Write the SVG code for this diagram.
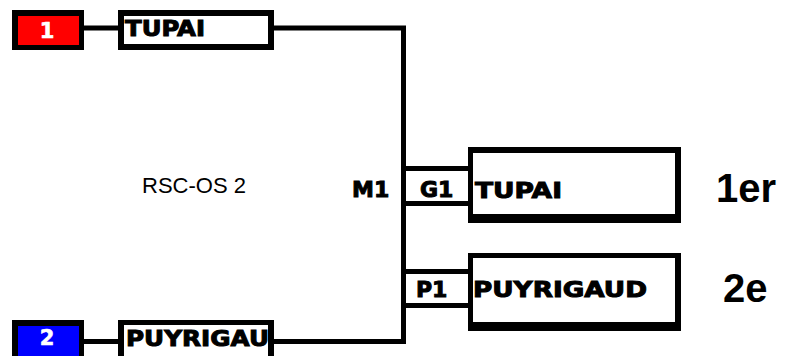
<svg xmlns="http://www.w3.org/2000/svg" width="789" height="356" viewBox="0 0 789 356">
<style>
.frame{fill:#000}
.in{fill:#fff}
.lbl{font-family:"DejaVu Sans","Liberation Sans",sans-serif;font-weight:bold;font-size:22px;fill:#000;stroke:#000;stroke-width:1}
.seed{font-family:"DejaVu Sans","Liberation Sans",sans-serif;font-weight:bold;font-size:21px;fill:#fff;stroke:#fff;stroke-width:0.6;text-anchor:middle}
.rank{font-family:"Liberation Sans",Arial,sans-serif;font-weight:bold;font-size:40px;fill:#000}
.title{font-family:"Liberation Sans",Arial,sans-serif;font-size:22px;fill:#000}
.conn{stroke:#000;stroke-width:5;fill:none}
</style>
<rect width="789" height="356" fill="#fff"/>
<g id="connectors">
<path class="conn" d="M84 28H118"/>
<path class="conn" d="M274 28H403.5V341.5H274"/>
<path class="conn" d="M84 341.5H118"/>
<path class="conn" d="M403.5 168.5H470M403.5 203.5H470"/>
<path class="conn" d="M403.5 271.5H470M403.5 305.5H470"/>
</g>
<g id="seed1">
<rect class="frame" x="12" y="10" width="72" height="40"/>
<rect x="18" y="16" width="61" height="29" fill="#ff0000"/>
<text class="seed" x="47" y="38">1</text>
</g>
<g id="team1">
<rect class="frame" x="118" y="10" width="156" height="40"/>
<rect class="in" x="124" y="16" width="144" height="28"/>
<text class="lbl" x="125" y="36" textLength="80" lengthAdjust="spacingAndGlyphs">TUPAI</text>
</g>
<g id="seed2">
<rect class="frame" x="12" y="320" width="72" height="40"/>
<rect x="18" y="326" width="61" height="34" fill="#0000ff"/>
<text class="seed" x="47" y="345">2</text>
</g>
<g id="team2">
<rect class="frame" x="118" y="320" width="156" height="40"/>
<rect class="in" x="124" y="325" width="144" height="35"/>
<text class="lbl" x="126" y="346" textLength="143" lengthAdjust="spacingAndGlyphs">PUYRIGAU</text>
</g>
<g id="title">
<text class="title" x="142" y="193">RSC-OS 2</text>
</g>
<g id="match">
<text class="lbl" x="352" y="197">M1</text>
</g>
<g id="winner">
<text class="lbl" x="420" y="197">G1</text>
<rect class="frame" x="468" y="147" width="213" height="76"/>
<rect class="in" x="473" y="153" width="202" height="61"/>
<text class="lbl" x="475" y="198" textLength="87" lengthAdjust="spacingAndGlyphs">TUPAI</text>
<text class="rank" x="716" y="202">1er</text>
</g>
<g id="loser">
<text class="lbl" x="416" y="297">P1</text>
<rect class="frame" x="468" y="253" width="213" height="78"/>
<rect class="in" x="473" y="258" width="202" height="64"/>
<text class="lbl" x="473" y="297" textLength="174" lengthAdjust="spacingAndGlyphs">PUYRIGAUD</text>
<text class="rank" x="723" y="302">2e</text>
</g>
</svg>
